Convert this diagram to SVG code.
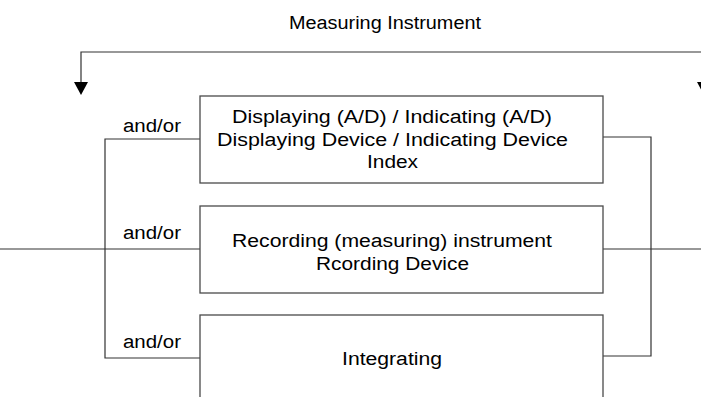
<svg xmlns="http://www.w3.org/2000/svg" width="701" height="397" viewBox="0 0 701 397">
  <style>
    .box { fill: #ffffff; stroke: #4a4a4a; stroke-width: 1.3; }
    .wire { fill: none; stroke: #333333; stroke-width: 1.2; }
    .lbl { font-family: "Liberation Sans", Arial, sans-serif; font-size: 18px; fill: #000000; }
    .head { fill: #000000; }
  </style>
  <rect width="701" height="397" fill="#ffffff"/>

  <g id="connectors">
    <!-- feedback loop across the top -->
    <polyline class="wire" points="81,83 81,52 704,52 704,83"/>
    <polygon class="head" points="74,82 88,82 81,95"/>
    <polygon class="head" points="697,82 711,82 704,95"/>
    <!-- input side fan-out -->
    <line class="wire" x1="0" y1="249" x2="200" y2="249"/>
    <polyline class="wire" points="200,139 105,139 105,358 200,358"/>
    <!-- output side fan-in -->
    <line class="wire" x1="603" y1="249" x2="701" y2="249"/>
    <polyline class="wire" points="603,137 651,137 651,356 603,356"/>
  </g>

  <g id="title">
    <text class="lbl" x="289" y="29" textLength="192" lengthAdjust="spacingAndGlyphs">Measuring Instrument</text>
  </g>

  <g id="andor-labels">
    <text class="lbl" x="123" y="132" textLength="58" lengthAdjust="spacingAndGlyphs">and/or</text>
    <text class="lbl" x="123" y="239" textLength="58" lengthAdjust="spacingAndGlyphs">and/or</text>
    <text class="lbl" x="123" y="348" textLength="58" lengthAdjust="spacingAndGlyphs">and/or</text>
  </g>

  <g id="displaying">
    <rect class="box" x="200" y="96" width="403" height="87"/>
    <text class="lbl" x="232" y="123" textLength="320" lengthAdjust="spacingAndGlyphs">Displaying (A/D) / Indicating (A/D)</text>
    <text class="lbl" x="217" y="146" textLength="351" lengthAdjust="spacingAndGlyphs">Displaying Device / Indicating Device</text>
    <text class="lbl" x="367" y="168" textLength="51" lengthAdjust="spacingAndGlyphs">Index</text>
  </g>

  <g id="recording">
    <rect class="box" x="200" y="206" width="403" height="87"/>
    <text class="lbl" x="232" y="247" textLength="320" lengthAdjust="spacingAndGlyphs">Recording (measuring) instrument</text>
    <text class="lbl" x="316" y="270" textLength="153" lengthAdjust="spacingAndGlyphs">Rcording Device</text>
  </g>

  <g id="integrating">
    <rect class="box" x="200" y="315" width="403" height="100"/>
    <text class="lbl" x="342" y="365" textLength="100" lengthAdjust="spacingAndGlyphs">Integrating</text>
  </g>
</svg>
